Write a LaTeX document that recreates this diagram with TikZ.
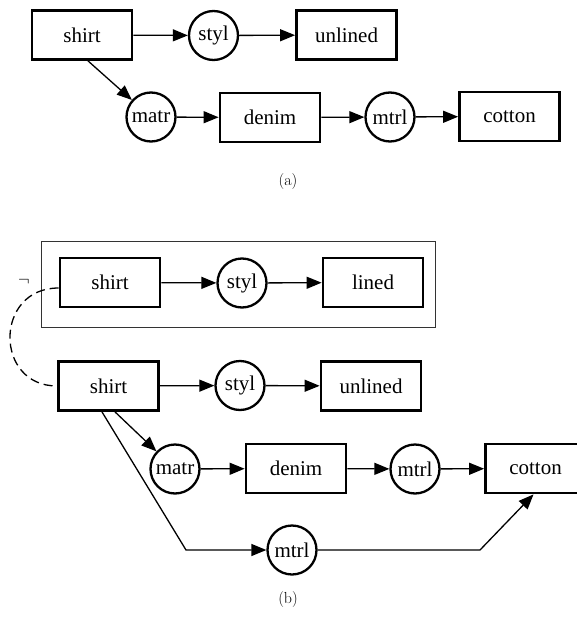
\documentclass[tikz,border=0pt]{standalone}
\usepackage{fontspec}
\setmainfont{Liberation Serif}
\newfontfamily\capfont{Latin Modern Roman}
\usetikzlibrary{arrows.meta,calc}

\tikzset{
  x=1pt, y=-1pt,
  every node/.style={font=\fontsize{21}{23}\selectfont, inner sep=0pt},
  valbox/.style={draw, line width=2.8pt, minimum width=100pt, minimum height=49pt},
  attr/.style={draw, circle, line width=2.3pt, minimum size=49pt},
  link/.style={line width=1.3pt, -{Triangle[length=15pt,width=12pt]}},
  sublabel/.style={font=\capfont\fontsize{16}{18}\selectfont}
}

\begin{document}
\begin{tikzpicture}
\useasboundingbox (0,0) rectangle (577,621);

% ---- (a) ----
\node[valbox] (shirtA)   at (82,35)    {shirt};
\node[attr]   (stylA)    at (213.5,35.5) {styl};
\node[valbox] (unlinedA) at (346.5,35) {unlined};
\node[attr]   (matrA)    at (151,117)  {matr};
\node[valbox] (denimA)   at (270,117.5) {denim};
\node[attr]   (mtrlA)    at (390,117)  {mtrl};
\node[valbox] (cottonA)  at (509.5,116.5) {cotton};

\draw[link] (shirtA) -- (stylA);
\draw[link] (stylA) -- (unlinedA);
\draw[link] ($(shirtA.south)+(6,0)$) -- (matrA);
\draw[link] (matrA) -- (denimA);
\draw[link] (denimA) -- (mtrlA);
\draw[link] (mtrlA) -- (cottonA);

\node[sublabel] (capA) at (288,182) {(a)};

% ---- (b) ----
\draw[line width=1pt, draw=black!80] (41,241) rectangle (435,327);

\node[valbox] (shirtB1)  at (110,282.5) {shirt};
\node[attr]   (stylB1)   at (242,283)   {styl};
\node[valbox] (linedB1)  at (373,282.5) {lined};

\node[valbox] (shirtB2)   at (108.5,386) {shirt};
\node[attr]   (stylB2)    at (240,385.5) {styl};
\node[valbox] (unlinedB2) at (371,386)   {unlined};
\node[attr]   (matrB)     at (175,469)   {matr};
\node[valbox] (denimB)    at (296,468.5) {denim};
\node[attr]   (mtrlB)     at (415,469)   {mtrl};
\node[valbox] (cottonB)   at (535.5,468.5) {cotton};
\node[attr]   (mtrlC)     at (292,550)   {mtrl};

\draw[link] (shirtB1) -- (stylB1);
\draw[link] (stylB1) -- (linedB1);

\draw[link] (shirtB2) -- (stylB2);
\draw[link] (stylB2) -- (unlinedB2);
\draw[link] ($(shirtB2.south)+(6.5,0)$) -- (matrB);
\draw[link] (matrB) -- (denimB);
\draw[link] (denimB) -- (mtrlB);
\draw[link] (mtrlB) -- (cottonB);

\coordinate (bendL) at (186,550);
\coordinate (bendR) at (480,550);
\draw[link] ($(shirtB2.south)+(-6.5,0)$) -- (bendL) -- (mtrlC);
\draw[link] (mtrlC) -- (bendR) -- ($(cottonB.south)+(-2,0)$);

% dashed link between the two shirt values, with the negation mark
\draw[line width=1.3pt, dash pattern=on 9pt off 5pt]
  ($(shirtB1.west)+(0,5.5)$) .. controls (-6,288) and (-6,386) .. (shirtB2.west);
\node[font=\capfont\fontsize{16}{18}\selectfont] (negmark) at (24,282) {$\neg$};

\node[sublabel] (capB) at (288,600) {(b)};
\end{tikzpicture}
\end{document}
